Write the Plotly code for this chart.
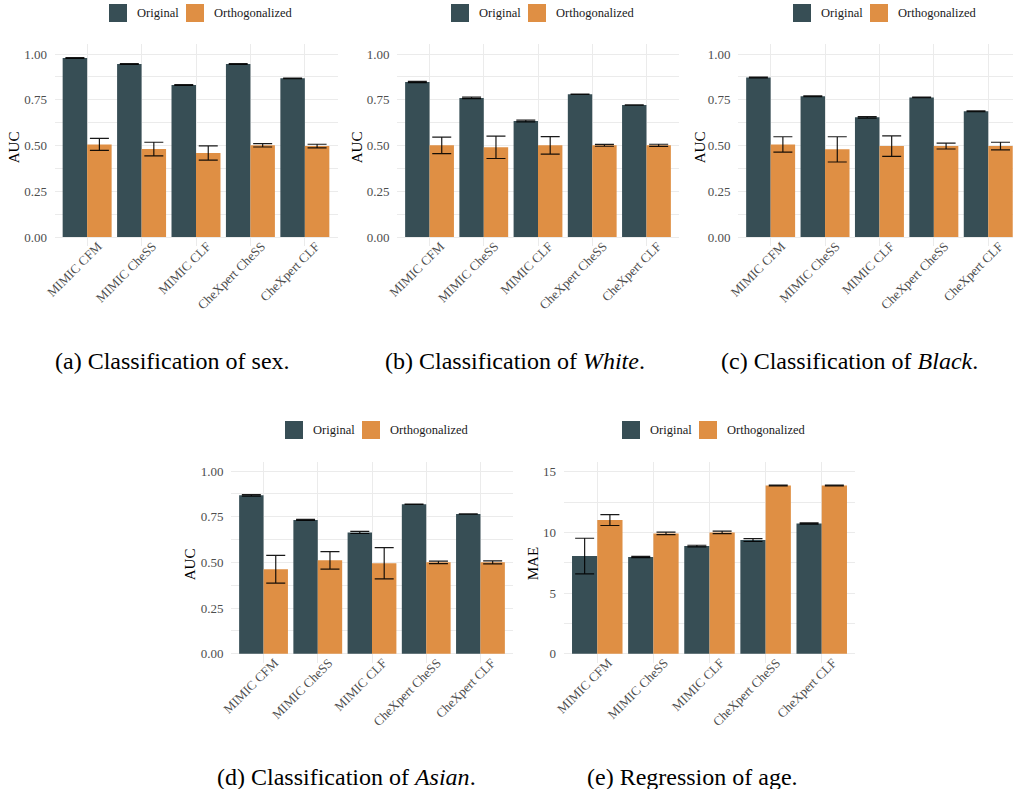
import plotly.graph_objects as go

# ---------------------------------------------------------------- data
models = ["MIMIC CFM", "MIMIC CheSS", "MIMIC CLF", "CheXpert CheSS", "CheXpert CLF"]

# (a) sex classification, AUC
sex_orig = [0.978, 0.945, 0.831, 0.945, 0.867]
sex_orig_err = [0.002, 0.002, 0.002, 0.002, 0.001]
sex_orth = [0.506, 0.481, 0.459, 0.501, 0.497]
sex_orth_err = [0.033, 0.037, 0.039, 0.009, 0.010]

# (b) White classification, AUC
white_orig = [0.847, 0.760, 0.634, 0.780, 0.721]
white_orig_err = [0.003, 0.004, 0.005, 0.001, 0.001]
white_orth = [0.501, 0.490, 0.501, 0.501, 0.501]
white_orth_err = [0.045, 0.061, 0.048, 0.005, 0.006]

# (c) Black classification, AUC
black_orig = [0.872, 0.769, 0.654, 0.763, 0.687]
black_orig_err = [0.002, 0.002, 0.004, 0.001, 0.002]
black_orth = [0.506, 0.479, 0.497, 0.497, 0.497]
black_orth_err = [0.042, 0.069, 0.056, 0.016, 0.021]

# (d) Asian classification, AUC
asian_orig = [0.867, 0.732, 0.664, 0.818, 0.765]
asian_orig_err = [0.004, 0.003, 0.006, 0.001, 0.001]
asian_orth = [0.462, 0.511, 0.495, 0.500, 0.500]
asian_orth_err = [0.076, 0.048, 0.086, 0.007, 0.008]

# (e) age regression, MAE
age_orig = [8.05, 7.97, 8.87, 9.37, 10.74]
age_orig_err = [1.47, 0.05, 0.07, 0.12, 0.05]
age_orth = [11.02, 9.92, 10.00, 13.87, 13.87]
age_orth_err = [0.45, 0.10, 0.10, 0.03, 0.03]

series_names = ["Original", "Orthogonalized"]
captions = [
    "(a) Classification of sex.",
    "(b) Classification of <i>White</i>.",
    "(c) Classification of <i>Black</i>.",
    "(d) Classification of <i>Asian</i>.",
    "(e) Regression of age.",
]

# ---------------------------------------------------------------- style
W, H = 1013, 789
DARK = "#374E55"
ORANGE = "#DF8F44"
FONT = "Liberation Serif, DejaVu Serif, serif"
GRID = "#EBEBEB"
TICK_GREY = "#4D4D4D"


def px(x):
    return x / W


def py(y):
    return 1 - y / H


# panel geometry in pixels: plot-area left/right/top/bottom, x range, y range
panels = [
    dict(data=(sex_orig, sex_orig_err, sex_orth, sex_orth_err), ytitle="AUC",
         box=(54.5, 337.5, 44.3, 246.2), xr=[-0.6, 4.6], yr=[-0.05, 1.053], dtick=0.25, minor=0.125,
         fmt=".2f", title_x=14, legend_x=109, caption_x=172),
    dict(data=(white_orig, white_orig_err, white_orth, white_orth_err), ytitle="AUC",
         box=(397, 679, 44.3, 246.2), xr=[-0.6, 4.6], yr=[-0.05, 1.053], dtick=0.25, minor=0.125,
         fmt=".2f", title_x=357, legend_x=451, caption_x=515),
    dict(data=(black_orig, black_orig_err, black_orth, black_orth_err), ytitle="AUC",
         box=(738, 1013, 44.3, 246.2), xr=[-0.6, 4.455], yr=[-0.05, 1.053], dtick=0.25, minor=0.125,
         fmt=".2f", title_x=700, legend_x=793, caption_x=849),
    dict(data=(asian_orig, asian_orig_err, asian_orth, asian_orth_err), ytitle="AUC",
         box=(231, 513, 461.7, 662.8), xr=[-0.6, 4.6], yr=[-0.05, 1.051], dtick=0.25, minor=0.125,
         fmt=".2f", title_x=190, legend_x=285, caption_x=346),
    dict(data=(age_orig, age_orig_err, age_orth, age_orth_err), ytitle="MAE",
         box=(563.6, 855.4, 461.7, 662.8), xr=[-0.6, 4.6], yr=[-0.75, 15.83], dtick=5, minor=2.5,
         fmt="d", title_x=533, legend_x=622, caption_x=692),
]

fig = go.Figure()
layout = dict(
    template="none",
    width=W, height=H,
    margin=dict(l=0, r=0, t=0, b=0, pad=0, autoexpand=False),
    paper_bgcolor="white", plot_bgcolor="white",
    barmode="group", bargap=0.1, bargroupgap=0.0,
    showlegend=False,
    font=dict(family=FONT, color="black"),
)
shapes = []
annotations = []

for i, p in enumerate(panels):
    k = "" if i == 0 else str(i + 1)
    xa, ya = "x" + k, "y" + k
    orig, orig_err, orth, orth_err = p["data"]
    left, right, top, bottom = p["box"]

    for name, vals, errs, colour in (
        (series_names[0], orig, orig_err, DARK),
        (series_names[1], orth, orth_err, ORANGE),
    ):
        fig.add_trace(go.Bar(
            x=models, y=vals, name=name, xaxis=xa, yaxis=ya,
            marker=dict(color=colour, line=dict(width=0)),
            offsetgroup=name,
            error_y=dict(type="data", array=errs, visible=True,
                         color="rgba(0,0,0,0.9)", thickness=1.2, width=9.5),
        ))

    layout["xaxis" + k] = dict(
        domain=[px(left), px(right)], anchor=ya, range=p["xr"], automargin=False,
        type="category", categoryorder="array", categoryarray=models,
        showgrid=True, gridcolor=GRID, gridwidth=1.2, zeroline=False, showline=False,
        ticks="", tickangle=-45, ticklabelshift=11, ticklabelstandoff=-11,
        tickfont=dict(family=FONT, size=13, color=TICK_GREY),
    )
    layout["yaxis" + k] = dict(
        domain=[py(bottom), py(top)], anchor=xa, range=p["yr"], automargin=False,
        tick0=0, dtick=p["dtick"], tickformat=p["fmt"],
        showgrid=True, gridcolor=GRID, gridwidth=1.2, zeroline=False, showline=False,
        minor=dict(dtick=p["minor"], tick0=0, showgrid=True, gridcolor=GRID, gridwidth=0.7),
        ticks="outside", ticklen=4, tickcolor="rgba(0,0,0,0)",
        tickfont=dict(family=FONT, size=13, color=TICK_GREY),
    )

    # axis title
    annotations.append(dict(
        text=p["ytitle"], textangle=-90, x=px(p["title_x"]), y=py((top + bottom) / 2 + 2),
        xref="paper", yref="paper", xanchor="center", yanchor="middle", showarrow=False,
        font=dict(family=FONT, size=15, color="black"),
    ))

    # legend keys above the panel
    key_top = 4 if top < 100 else 421
    lx = p["legend_x"]
    for j, (name, colour) in enumerate(zip(series_names, (DARK, ORANGE))):
        x0 = lx + j * 77
        shapes.append(dict(
            type="rect", xref="paper", yref="paper",
            x0=px(x0), x1=px(x0 + 18), y0=py(key_top + 18), y1=py(key_top),
            fillcolor=colour, line=dict(width=0),
        ))
        annotations.append(dict(
            text=name, x=px(x0 + 25.5), y=py(key_top + 9.5), xref="paper", yref="paper",
            xanchor="left", yanchor="middle", showarrow=False,
            font=dict(family=FONT, size=12.5, color="#1a1a1a"),
        ))

    # caption under the panel
    cap_y = 361 if top < 100 else 777
    annotations.append(dict(
        text=captions[i], x=px(p["caption_x"]), y=py(cap_y), xref="paper", yref="paper",
        xanchor="center", yanchor="middle", showarrow=False,
        font=dict(family=FONT, size=24, color="black"),
    ))

layout["shapes"] = shapes
layout["annotations"] = annotations
fig.update_layout(**layout)

fig.write_html("out.html")
